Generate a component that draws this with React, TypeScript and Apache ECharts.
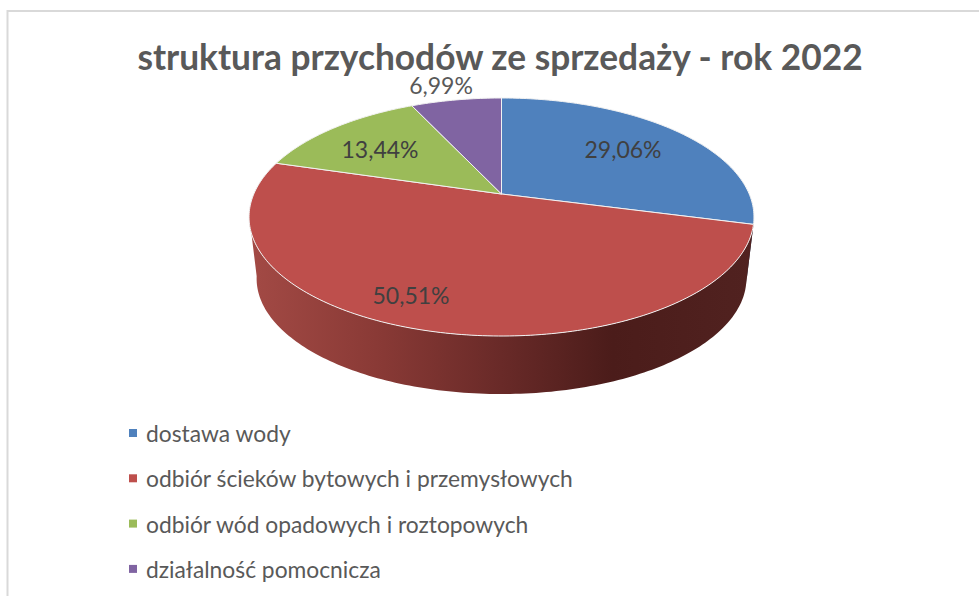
import React, { useEffect, useRef } from "react";
import * as echarts from "echarts";

const titleText = "struktura przychodów ze sprzedaży - rok 2022";
const categories = [
  "dostawa wody",
  "odbiór ścieków bytowych i przemysłowych",
  "odbiór wód opadowych i roztopowych",
  "działalność pomocnicza",
];
const shares = [29.06, 50.51, 13.44, 6.99];

const topColors = ["#4f81bd", "#be4f4c", "#9bbb59", "#8064a2"];
const sideFills: any[] = [
  "#1f3350",
  new echarts.graphic.LinearGradient(0, 0, 1, 0, [
    { offset: 0, color: "#a34a45" },
    { offset: 0.25, color: "#8a3a36" },
    { offset: 0.5, color: "#692a28" },
    { offset: 0.72, color: "#4b1c1a" },
    { offset: 1, color: "#512220" },
  ]),
  "#5d7035",
  "#4c3c61",
];
const labelAnchors = [
  [623, 149],
  [411, 295],
  [380, 149],
  [441, 85],
];
const labelColors = ["#404040", "#404040", "#404040", "#595959"];

// Perspective projection of the unit disc onto the tilted pie
const CX = 501.5;
const APEX_Y = 194;
const SCALE_X = 247.7;
const SCALE_Y = 77.06;
const PERSP = 0.1933;
const ELLIPSE_CY = 217;
const BOTTOM_SCALE = 0.97;
const BOTTOM_SHIFT = 61.6;
const FRONT_FROM = 100;
const FRONT_TO = 260;
const FONT = "Lato";

function project(deg: number, r = 1): number[] {
  const t = (deg * Math.PI) / 180;
  const X = r * Math.sin(t);
  const Y = r * Math.cos(t);
  const w = 1 + PERSP * Y;
  return [CX + (SCALE_X * X) / w, (APEX_Y - SCALE_Y * Y) / w];
}

function projectBottom(deg: number): number[] {
  const [x, y] = project(deg);
  return [
    CX + (x - CX) * BOTTOM_SCALE,
    ELLIPSE_CY + (y - ELLIPSE_CY) * BOTTOM_SCALE + BOTTOM_SHIFT,
  ];
}

function sweep(a0: number, a1: number, fn: (d: number) => number[]): number[][] {
  const n = Math.max(2, Math.ceil(Math.abs(a1 - a0)));
  const pts: number[][] = [];
  for (let i = 0; i <= n; i++) pts.push(fn(a0 + ((a1 - a0) * i) / n));
  return pts;
}

const total = shares.reduce((a, b) => a + b, 0);

function makeRenderItem(index: number) {
  return (_params: any, api: any) => {
    const value = api.value(0);
    const before = shares.slice(0, index).reduce((a, b) => a + b, 0);
    const a0 = (before / total) * 360;
    const a1 = a0 + (value / total) * 360;
    const children: any[] = [];
    const s0 = Math.max(a0, FRONT_FROM);
    const s1 = Math.min(a1, FRONT_TO);
    if (s1 > s0) {
      children.push({
        type: "polygon",
        shape: {
          points: [
            ...sweep(s0, s1, (d) => project(d)),
            ...sweep(s1, s0, (d) => projectBottom(d)),
          ],
        },
        style: { fill: sideFills[index], stroke: null },
      });
    }
    children.push({
      type: "polygon",
      shape: { points: [project(0, 0), ...sweep(a0, a1, (d) => project(d))] },
      style: { fill: topColors[index], stroke: "#f2f2f2", lineWidth: 1, lineJoin: "round" },
    });
    children.push({
      type: "text",
      z2: 10,
      style: {
        text: value.toFixed(2).replace(".", ",") + "%",
        x: labelAnchors[index][0],
        y: labelAnchors[index][1],
        align: "center",
        verticalAlign: "middle",
        fill: labelColors[index],
        font: `400 23px ${FONT}`,
      },
    });
    return { type: "group", children };
  };
}

export default function App() {
  const ref = useRef<HTMLDivElement>(null);
  useEffect(() => {
    const chart = echarts.init(ref.current!, undefined, { renderer: "svg" });
    chart.setOption({
      animation: false,
      backgroundColor: "#ffffff",
      title: {
        text: titleText,
        left: 500,
        top: 43,
        padding: 0,
        textAlign: "center",
        textStyle: {
          fontFamily: FONT,
          fontSize: 35.3,
          fontWeight: 700,
          color: "#595959",
          lineHeight: 26,
        },
      },
      legend: {
        orient: "vertical",
        left: 124,
        top: 416,
        itemWidth: 8,
        itemHeight: 8,
        itemGap: 21.3,
        icon: "rect",
        selectedMode: false,
        data: categories.map((name, i) => ({ name, itemStyle: { color: topColors[i] } })),
        textStyle: {
          fontFamily: FONT,
          fontSize: 22.8,
          color: "#595959",
          padding: [0, 0, 0, 4],
          lineHeight: 24,
        },
      },
      graphic: [
        {
          type: "rect",
          silent: true,
          shape: { x: 7.5, y: 11, width: 1100, height: 800 },
          style: { fill: "transparent", stroke: "#d9d9d9", lineWidth: 2 },
        },
      ],
      series: categories.map((name, i) => ({
        type: "custom",
        name,
        coordinateSystem: "none",
        silent: true,
        clip: false,
        itemStyle: { color: topColors[i] },
        data: [[shares[i]]],
        renderItem: makeRenderItem(i),
      })),
    });
    return () => chart.dispose();
  }, []);
  return (
    <div
      ref={ref}
      style={{ position: "fixed", left: 0, top: 0, width: 979, height: 596 }}
    />
  );
}
